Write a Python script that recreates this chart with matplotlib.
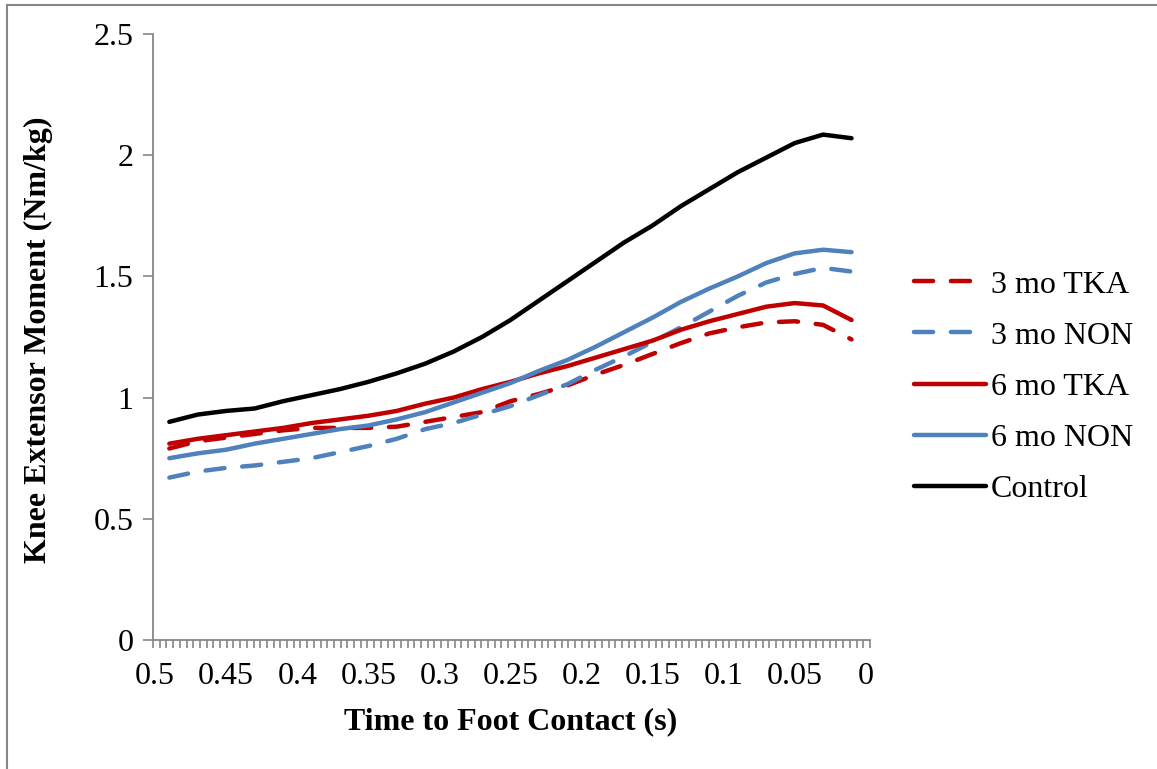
import numpy as np
import matplotlib
matplotlib.use('Agg')
import matplotlib.pyplot as plt
from matplotlib.lines import Line2D

plt.rcParams['font.family'] = ['Liberation Serif', 'DejaVu Serif']

# temps avant contact du pied (s)
t = [0.49, 0.47, 0.45, 0.43, 0.41, 0.39, 0.37, 0.35, 0.33, 0.31, 0.29, 0.27, 0.25,
     0.23, 0.21, 0.19, 0.17, 0.15, 0.13, 0.11, 0.09, 0.07, 0.05, 0.03, 0.01]

tka_3mo = [0.79, 0.82, 0.835, 0.85, 0.865, 0.875, 0.875, 0.875, 0.88, 0.90, 0.92, 0.94, 0.985,
           1.015, 1.05, 1.095, 1.135, 1.18, 1.225, 1.265, 1.29, 1.31, 1.315, 1.30, 1.24]
non_3mo = [0.67, 0.695, 0.71, 0.72, 0.735, 0.75, 0.775, 0.80, 0.83, 0.87, 0.895, 0.93, 0.965,
           1.01, 1.055, 1.115, 1.17, 1.23, 1.29, 1.355, 1.42, 1.475, 1.51, 1.535, 1.52]
tka_6mo = [0.81, 0.83, 0.845, 0.86, 0.875, 0.895, 0.91, 0.925, 0.945, 0.975, 1.00, 1.035, 1.065,
           1.10, 1.13, 1.165, 1.20, 1.235, 1.28, 1.315, 1.345, 1.375, 1.39, 1.38, 1.32]
non_6mo = [0.75, 0.77, 0.785, 0.81, 0.83, 0.85, 0.87, 0.885, 0.91, 0.94, 0.98, 1.02, 1.06,
           1.11, 1.155, 1.21, 1.27, 1.33, 1.395, 1.45, 1.50, 1.555, 1.595, 1.61, 1.60]
control = [0.90, 0.93, 0.945, 0.955, 0.985, 1.01, 1.035, 1.065, 1.10, 1.14, 1.19, 1.25, 1.32,
           1.40, 1.48, 1.56, 1.64, 1.71, 1.79, 1.86, 1.93, 1.99, 2.05, 2.085, 2.07]

x_ticks = [0.5, 0.45, 0.4, 0.35, 0.3, 0.25, 0.2, 0.15, 0.1, 0.05, 0]
x_labels = ['0.5', '0.45', '0.4', '0.35', '0.3', '0.25', '0.2', '0.15', '0.1', '0.05', '0']
y_ticks = [0, 0.5, 1, 1.5, 2, 2.5]
y_labels = ['0', '0.5', '1', '1.5', '2', '2.5']

red = '#C00000'
blue = '#4F81BD'
gris = '#868686'
fs = 23

fig = plt.figure(figsize=(11.57, 7.69), dpi=100)
ax = fig.add_axes([153/1157, 1 - 640/769, (870-153)/1157, (640-34)/769])

dash = (0, (4.3, 4.0))
kw = dict(lw=3.2, solid_capstyle='round', dash_capstyle='round', solid_joinstyle='round')
ax.plot(t, tka_3mo, color=red, linestyle=dash, label='3 mo TKA', **kw)
ax.plot(t, non_3mo, color=blue, linestyle=dash, label='3 mo NON', **kw)
ax.plot(t, tka_6mo, color=red, label='6 mo TKA', **kw)
ax.plot(t, non_6mo, color=blue, label='6 mo NON', **kw)
ax.plot(t, control, color='black', label='Control', **kw)

x0, x1 = 0.5015, -0.003
ax.set_xlim(x0, x1)
ax.set_ylim(0, 2.5)

for s in ['top', 'right']:
    ax.spines[s].set_visible(False)
for s in ['left', 'bottom']:
    ax.spines[s].set_color(gris)
    ax.spines[s].set_linewidth(1.3)

ax.set_xticks(x_ticks, x_labels, fontsize=fs)
ax.set_xticks(np.linspace(x0, x1, 108), minor=True)
ax.tick_params(axis='x', which='major', length=0, pad=16)
ax.tick_params(axis='x', which='minor', length=6, width=1.2, color=gris)
ax.set_yticks(y_ticks, y_labels, fontsize=fs)
ax.tick_params(axis='y', which='major', length=7, width=1.2, color=gris, pad=7)

fig.text(511/1157, 1 - 722/769, 'Time to Foot Contact (s)', fontsize=fs, fontweight='bold',
         ha='center', va='center')
fig.text(38/1157, 1 - 340/769, 'Knee Extensor Moment (Nm/kg)', fontsize=fs, fontweight='bold',
         ha='center', va='center', rotation=90)

fig.legend(loc='center left', bbox_to_anchor=(914/1157, 1 - 387/769), bbox_transform=fig.transFigure,
           frameon=False, fontsize=fs, handlelength=2.25, handletextpad=0.15, labelspacing=0.68,
           borderpad=0, borderaxespad=0)

# cadre du graphique
fig.add_artist(Line2D([7/1157, 7/1157], [0, 1 - 5/769], color=gris, lw=1.5, transform=fig.transFigure))
fig.add_artist(Line2D([7/1157, 1], [1 - 5/769, 1 - 5/769], color=gris, lw=1.5, transform=fig.transFigure))

fig.savefig('out.png', dpi=100)
